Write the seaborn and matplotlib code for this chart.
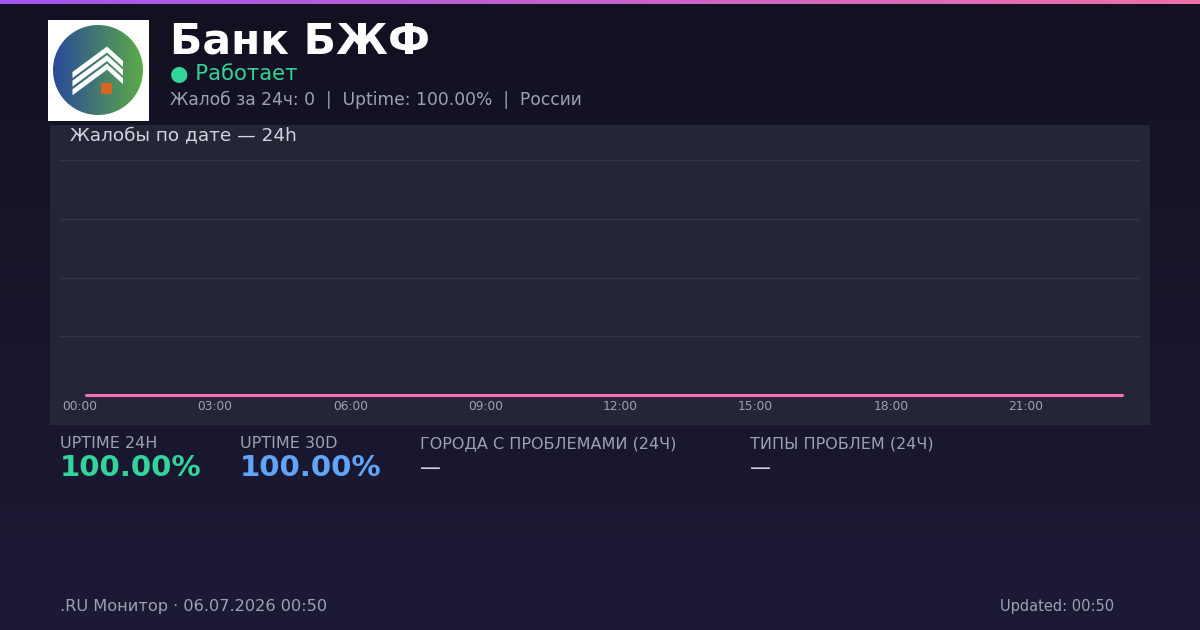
import numpy as np
import pandas as pd
import matplotlib
matplotlib.use("Agg")
import matplotlib.pyplot as plt
from matplotlib.patches import Rectangle, Circle, Polygon
from matplotlib.transforms import ScaledTranslation
import seaborn as sns

# ---- data ----
hours = list(range(24))
complaints = [0, 0, 0, 0, 0, 0, 0, 0, 0, 0, 0, 0,
              0, 0, 0, 0, 0, 0, 0, 0, 0, 0, 0, 0]
tick_hours = [0, 3, 6, 9, 12, 15, 18, 21]
tick_labels = ["00:00", "03:00", "06:00", "09:00", "12:00", "15:00", "18:00", "21:00"]
bank_name = "Банк БЖФ"
status = "Работает"
subtitle = "Жалоб за 24ч: 0  |  Uptime: 100.00%  |  России"
chart_title = "Жалобы по дате — 24h"
stat_labels = ["UPTIME 24H", "UPTIME 30D", "ГОРОДА С ПРОБЛЕМАМИ (24Ч)", "ТИПЫ ПРОБЛЕМ (24Ч)"]
stat_values = ["100.00%", "100.00%", "—", "—"]
footer_left = ".RU Монитор · 06.07.2026 00:50"
footer_right = "Updated: 00:50"

sns.set_theme(style="dark")
plt.rcParams['font.family'] = ['DejaVu Sans']

W, H = 1200, 630
fig = plt.figure(figsize=(12, 6.3), dpi=100)

def fx(x):
    return x / W

def fy(y):
    return 1 - y / H

# background gradient
bg = fig.add_axes([0, 0, 1, 1], zorder=-10)
top = np.array([0x12, 0x11, 0x21]) / 255
bot = np.array([0x1d, 0x1a, 0x36]) / 255
t = np.linspace(0, 1, 630)[:, None]
grad = top[None, :] * (1 - t) + bot[None, :] * t
bg.imshow(grad[:, None, :], aspect='auto', extent=[0, 1, 0, 1], origin='upper',
          interpolation='bilinear')
bg.set_xlim(0, 1); bg.set_ylim(0, 1)
bg.axis('off')

# top accent bar
bar = fig.add_axes([0, fy(4), 1, 4 / H], zorder=5)
c1 = np.array([0xa0, 0x55, 0xf0]) / 255
c2 = np.array([0xf0, 0x70, 0xa8]) / 255
s = np.linspace(0, 1, 512)[:, None]
bgrad = c1[None, :] * (1 - s) + c2[None, :] * s
bar.imshow(bgrad[None, :, :], aspect='auto', extent=[0, 1, 0, 1])
bar.axis('off')

# chart panel
panel = fig.add_axes([fx(50), fy(425), fx(1100), 300 / H], zorder=-5)
panel.set_facecolor('#252538')
panel.set_xticks([]); panel.set_yticks([])
for sp in panel.spines.values():
    sp.set_visible(False)

# logo
logo = fig.add_axes([fx(48), fy(121), fx(101), 101 / H], zorder=6)
logo.set_xlim(48, 149); logo.set_ylim(121, 20)
logo.set_facecolor('white')
for sp in logo.spines.values():
    sp.set_visible(False)
logo.set_xticks([]); logo.set_yticks([])
lg1 = np.array([0x2a, 0x4a, 0x9a]) / 255
lg2 = np.array([0x5c, 0xaa, 0x48]) / 255
u = np.linspace(0, 1, 256)[None, :, None]
lgrad = lg1[None, None, :] * (1 - u) + lg2[None, None, :] * u
lgrad = np.repeat(lgrad, 4, axis=0)
im = logo.imshow(lgrad, extent=[53, 143, 115, 25], aspect='auto', zorder=1)
circ = Circle((98, 70), 45, transform=logo.transData)
im.set_clip_path(circ)
for i in range(3):
    d = 8.6 * i
    th = 6.0
    yA, yL, yR = 46.5 + d, 72 + d, 61 + d
    pts = [(72.5, yL), (107, yA), (123, yR), (123, yR + th), (107, yA + th), (72.5, yL + th)]
    logo.add_patch(Polygon(pts, closed=True, color='white', zorder=2, lw=0))
logo.add_patch(Rectangle((101, 83), 11, 11, color='#d4661e', zorder=3, lw=0))

# main chart
ax = fig.add_axes([fx(60), fy(395), fx(1080), 235 / H], zorder=1)
ax.patch.set_alpha(0)
df = pd.DataFrame({"hour": hours, "complaints": complaints})
sns.lineplot(data=df, x="hour", y="complaints", ax=ax, color='#f472b6', lw=2.2,
             clip_on=False, zorder=3)
ax.set_xlim(-26 / 45, 23 + 18 / 45)
ax.set_ylim(0, 4)
ax.set_yticks([0, 1, 2, 3, 4])
ax.set_yticklabels([])
ax.grid(True, axis='y', color='#35354a', lw=0.9)
ax.grid(False, axis='x')
ax.set_xticks(tick_hours)
ax.set_xticklabels(tick_labels, fontsize=8.8, color='#9ca3af')
ax.tick_params(axis='x', length=0, pad=3.5)
ax.tick_params(axis='y', length=0)
offset = ScaledTranslation(-6 / 100, 0, fig.dpi_scale_trans)
for lbl in ax.get_xticklabels():
    lbl.set_transform(lbl.get_transform() + offset)
ax.set_xlabel(""); ax.set_ylabel("")
for sp in ax.spines.values():
    sp.set_visible(False)

# header texts
fig.text(fx(170), fy(41), bank_name, fontsize=30.5, fontweight='bold', color='white',
         va='center', ha='left')
fig.text(fx(170), fy(74), "● " + status, fontsize=15.3, color='#34d399', va='center', ha='left')
fig.text(fx(170), fy(100), subtitle, fontsize=12.3, color='#9ca3af', va='center', ha='left')
fig.text(fx(70), fy(135), chart_title, fontsize=13.3, color='#d1d5db', va='center', ha='left')

# stats
stat_x = [60, 240, 420, 750]
stat_colors = ['#34d399', '#60a5fa', '#d1d5db', '#d1d5db']
for x, lab, val, col in zip(stat_x, stat_labels, stat_values, stat_colors):
    fig.text(fx(x), fy(444), lab, fontsize=11.5, color='#9ca3af', va='center', ha='left')
    if val == "—":
        fig.text(fx(x), fy(468), val, fontsize=15, color=col, va='center', ha='left')
    else:
        fig.text(fx(x), fy(468), val, fontsize=21, fontweight='bold', color=col,
                 va='center', ha='left')

# footer
fig.text(fx(60), fy(607), footer_left, fontsize=11.6, color='#9ca3af', va='center', ha='left')
fig.text(fx(1114), fy(607), footer_right, fontsize=10.5, color='#9ca3af', va='center', ha='right')

fig.savefig("out.png", dpi=100, facecolor=fig.get_facecolor())
